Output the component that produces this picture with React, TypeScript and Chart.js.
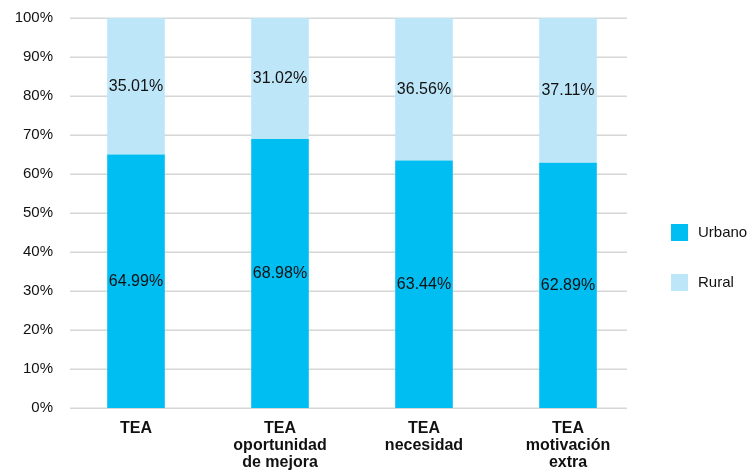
import React, { useEffect, useRef } from "react";
import { Chart, registerables } from "chart.js";

Chart.register(...registerables);

const categories: string[][] = [
  ["TEA"],
  ["TEA", "oportunidad", "de mejora"],
  ["TEA", "necesidad"],
  ["TEA", "motivación", "extra"],
];
const urbano: number[] = [64.99, 68.98, 63.44, 62.89];
const rural: number[] = [35.01, 31.02, 36.56, 37.11];
const seriesNames: string[] = ["Urbano", "Rural"];
const yTicks: number[] = [0, 10, 20, 30, 40, 50, 60, 70, 80, 90, 100];

const FONT = "'Liberation Sans', Arial, Helvetica, sans-serif";
const TEXT = "#111111";

const gridPlugin = {
  id: "customGrid",
  beforeDatasetsDraw(chart: any) {
    const { ctx, chartArea, scales } = chart;
    ctx.save();
    ctx.strokeStyle = "#d6d6d6";
    ctx.lineWidth = 1.5;
    yTicks.forEach((v) => {
      const y = Math.round(scales.y.getPixelForValue(v)) + 0.25;
      ctx.beginPath();
      ctx.moveTo(chartArea.left + 6, y);
      ctx.lineTo(chartArea.right - 13, y);
      ctx.stroke();
    });
    ctx.restore();
  },
};

const labelPlugin = {
  id: "segLabels",
  afterDatasetsDraw(chart: any) {
    const { ctx } = chart;
    ctx.save();
    ctx.font = `16px ${FONT}`;
    ctx.fillStyle = TEXT;
    ctx.textAlign = "center";
    ctx.textBaseline = "middle";
    chart.data.datasets.forEach((ds: any, di: number) => {
      const meta = chart.getDatasetMeta(di);
      meta.data.forEach((el: any, i: number) => {
        const y = (el.y + el.base) / 2;
        ctx.fillText(ds.data[i].toFixed(2) + "%", el.x, y);
      });
    });
    ctx.restore();
  },
};

const legendPlugin = {
  id: "customLegend",
  afterDraw(chart: any) {
    const { ctx, chartArea } = chart;
    ctx.save();
    ctx.font = `15px ${FONT}`;
    ctx.textBaseline = "middle";
    ctx.textAlign = "left";
    chart.data.datasets.forEach((ds: any, di: number) => {
      const x = chartArea.right + 31;
      const y = 224 + di * 50;
      ctx.fillStyle = ds.backgroundColor;
      ctx.fillRect(x, y, 17, 17);
      ctx.fillStyle = TEXT;
      ctx.fillText(ds.label, x + 27, y + 9);
    });
    ctx.restore();
  },
};

export default function App() {
  const ref = useRef<HTMLCanvasElement | null>(null);
  useEffect(() => {
    document.body.style.margin = "0";
    const canvas = ref.current!;
    const chart = new Chart(canvas, {
      type: "bar",
      data: {
        labels: categories,
        datasets: [
          { label: seriesNames[0], data: urbano, backgroundColor: "#00BDF2", barPercentage: 0.4, categoryPercentage: 1 },
          { label: seriesNames[1], data: rural, backgroundColor: "#BDE6F9", barPercentage: 0.4, categoryPercentage: 1 },
        ],
      },
      options: {
        animation: false,
        responsive: false,
        maintainAspectRatio: false,
        layout: { padding: { top: 18, right: 111, left: 0, bottom: 0 } },
        plugins: { legend: { display: false }, tooltip: { enabled: false } },
        scales: {
          x: {
            stacked: true,
            grid: { display: false },
            border: { display: false },
            ticks: {
              color: TEXT,
              padding: 4,
              maxRotation: 0,
              autoSkip: false,
              font: { family: FONT, size: 16, weight: "bold", lineHeight: 1.07 },
            },
            afterFit: (s: any) => { s.height = 62; },
          },
          y: {
            stacked: true,
            min: 0,
            max: 100,
            grid: { display: false },
            border: { display: false },
            ticks: {
              stepSize: 10,
              color: TEXT,
              padding: 3,
              font: { family: FONT, size: 15 },
              callback: (v: any) => v + "%",
            },
            afterFit: (s: any) => { s.width = 64; },
          },
        },
      },
      plugins: [gridPlugin, labelPlugin, legendPlugin],
    });
    return () => chart.destroy();
  }, []);
  return <canvas ref={ref} width={751} height={470} style={{ display: "block" }} />;
}
